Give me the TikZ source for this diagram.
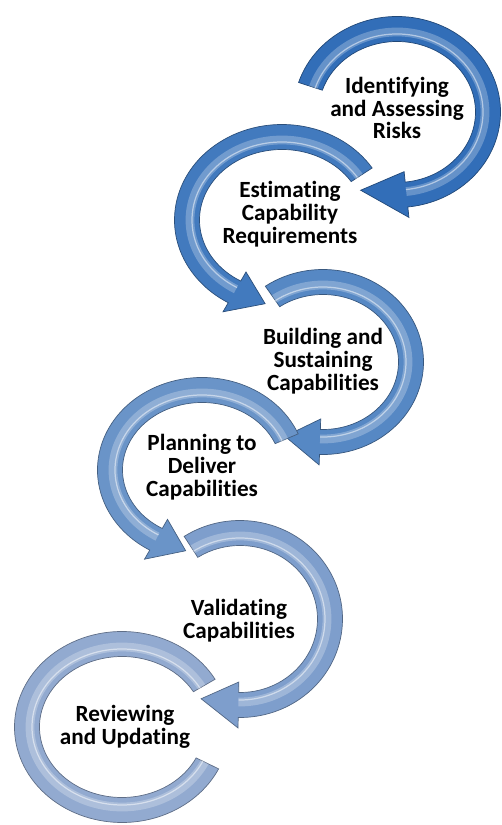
\documentclass[tikz,border=0pt]{standalone}
\usepackage{fontspec}
\setmainfont{Carlito}[Ligatures=NoCommon]
\usetikzlibrary{calc}

\definecolor{ringA}{RGB}{50,110,184}
\definecolor{ringB}{RGB}{66,122,190}
\definecolor{ringC}{RGB}{86,136,196}
\definecolor{ringD}{RGB}{106,148,200}
\definecolor{ringE}{RGB}{126,158,204}
\definecolor{ringF}{RGB}{146,170,208}

\tikzset{lbl/.style={align=center, font=\bfseries\fontsize{13.2}{13}\selectfont}}

% centre, x radius, y radius, tail angle, base angle, tip angle, colour
\newcommand{\ringarrow}[7]{%
  \fill[#7, draw=#7!65!black, line width=0.4pt]
    ($(#1)+(#4:#2+12.5 and #3+12.5)$) arc[start angle=#4, end angle=#5, x radius=#2+12.5, y radius=#3+12.5]
    -- ($(#1)+(#5:#2+23 and #3+23)$) -- ($(#1)+(#6:#2+2 and #3+2)$) -- ($(#1)+(#5:#2-23 and #3-23)$)
    -- ($(#1)+(#5:#2-12.5 and #3-12.5)$) arc[start angle=#5, end angle=#4, x radius=#2-12.5, y radius=#3-12.5]
    -- cycle;
  \draw[white, opacity=0.25, line width=5pt]
    ($(#1)+(#4:#2-3 and #3-3)$) arc[start angle=#4, end angle=#5, x radius=#2-3, y radius=#3-3];
  \draw[white, opacity=0.5, line width=0.7pt]
    ($(#1)+(#4:#2-5 and #3-5)$) arc[start angle=#4, end angle=#5, x radius=#2-5, y radius=#3-5];
}

\begin{document}
\begin{tikzpicture}[x=0.02cm, y=0.02cm]
    \useasboundingbox (0,0) rectangle (502,825);

    % arrows, top to bottom
    \ringarrow{397,713}{91}{83}{162}{-84}{-113}{ringA}
    \ringarrow{282,605}{95}{83}{33}{240}{260}{ringB}
    \ringarrow{323,463}{88}{80}{125}{-92}{-115}{ringC}
    \ringarrow{202,355}{92}{80}{23}{240}{260}{ringD}
    \ringarrow{240,206}{90}{86}{123}{-91}{-115}{ringE}

    % last one has no head
    \fill[ringF, draw=ringF!65!black, line width=0.4pt]
        ($(122,98)+(30:107.5 and 95.5)$) arc[start angle=30, end angle=334, x radius=107.5, y radius=95.5]
        -- ($(122,98)+(334:82.5 and 70.5)$) arc[start angle=334, end angle=30, x radius=82.5, y radius=70.5] -- cycle;
    \draw[white, opacity=0.25, line width=5pt]($(122,98)+(30:92 and 80)$) arc[start angle=30, end angle=334, x radius=92, y radius=80];
    \draw[white, opacity=0.5, line width=0.7pt]($(122,98)+(30:90 and 78)$) arc[start angle=30, end angle=334, x radius=90, y radius=78];

    \node[lbl] (risks) at (397,717) {Identifying\\and Assessing\\Risks};
    \node[lbl] (estimate) at (290,611) {Estimating\\Capability\\Requirements};
    \node[lbl] (building) at (323,464) {Building and\\Sustaining\\Capabilities};
    \node[lbl] (planning) at (202,358) {Planning to\\Deliver\\Capabilities};
    \node[lbl] (validating) at (239,204) {Validating\\Capabilities};
    \node[lbl] (reviewing) at (125,98) {Reviewing\\and Updating};
\end{tikzpicture}
\end{document}
